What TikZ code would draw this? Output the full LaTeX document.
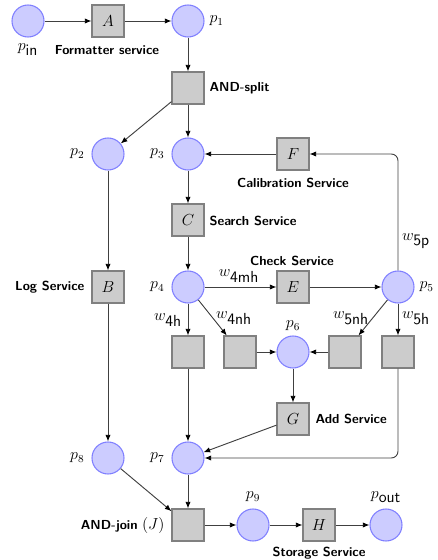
\documentclass[tikz,border=0pt]{standalone}
\usetikzlibrary{arrows.meta}
\begin{document}
\begin{tikzpicture}[x=0.75pt,y=-0.75pt,
  place/.style={circle,draw=blue!50,fill=blue!20,line width=0.8pt,minimum size=24pt,inner sep=0pt},
  trans/.style={rectangle,draw=black!50,fill=black!20,line width=0.8pt,minimum size=24pt,inner sep=0pt,font=\large},
  lab/.style={font=\sffamily\bfseries\fontsize{9.8}{11}\selectfont,inner sep=1pt},
  mlab/.style={font=\large,inner sep=1pt},
  arc/.style={draw=black!75,line width=0.7pt,-{Latex[length=5pt,width=4pt,color=black]}},
]
\useasboundingbox (0,0) rectangle (438,560);
% places and transitions
\node[place] (pin) at (28,21) {};
\node[trans] (A) at (108,21) {$A$};
\node[place] (p1) at (188,21) {};
\node[trans] (split) at (188,88) {};
\node[place] (p2) at (108,154) {};
\node[place] (p3) at (188,154) {};
\node[trans] (F) at (293,154) {$F$};
\node[trans] (C) at (188,220) {$C$};
\node[trans] (B) at (108,287) {$B$};
\node[place] (p4) at (188,287) {};
\node[trans] (E) at (293,287) {$E$};
\node[place] (p5) at (398,287) {};
\node[trans] (t4h) at (188,352) {};
\node[trans] (t4nh) at (240,352) {};
\node[place] (p6) at (293,352) {};
\node[trans] (t5nh) at (345,352) {};
\node[trans] (t5h) at (398,352) {};
\node[trans] (G) at (293,419) {$G$};
\node[place] (p8) at (108,458) {};
\node[place] (p7) at (188,458) {};
\node[trans] (J) at (188,525) {};
\node[place] (p9) at (253,525) {};
\node[trans] (H) at (319,525) {$H$};
\node[place] (pout) at (386,525) {};
% labels
\node[mlab] (lpin) at (28,50) {$p_{\textsf{in}}$};
\node[lab] (lA) at (107,50) {Formatter service};
\node[mlab,anchor=west] (lp1) at (208,21) {$p_1$};
\node[lab,anchor=west] (lsplit) at (208,88) {AND-split};
\node[mlab,anchor=east] (lp2) at (86,154) {$p_2$};
\node[mlab,anchor=east] (lp3) at (166,154) {$p_3$};
\node[lab] (lF) at (293,183) {Calibration Service};
\node[lab,anchor=west] (lC) at (208,221) {Search Service};
\node[lab] (lE) at (292,261) {Check Service};
\node[mlab] (lw4mh) at (239,276) {$w_{\textsf{4mh}}$};
\node[mlab,anchor=west] (lp5) at (418,287) {$p_5$};
\node[mlab] (lw5p) at (416,241) {$w_{\textsf{5p}}$};
\node[lab,anchor=east] (lB) at (86,287) {Log Service};
\node[mlab,anchor=east] (lp4) at (166,287) {$p_4$};
\node[mlab] (lw4h) at (168,320) {$w_{\textsf{4h}}$};
\node[mlab] (lw4nh) at (234,318) {$w_{\textsf{4nh}}$};
\node[mlab] (lp6) at (293,326) {$p_6$};
\node[mlab] (lw5nh) at (351,318) {$w_{\textsf{5nh}}$};
\node[mlab] (lw5h) at (416,318) {$w_{\textsf{5h}}$};
\node[lab,anchor=west] (lG) at (314,419) {Add Service};
\node[mlab,anchor=east] (lp8) at (86,458) {$p_8$};
\node[mlab,anchor=east] (lp7) at (166,458) {$p_7$};
\node[anchor=east,inner sep=1pt] (lJ) at (166,525) {{\sffamily\bfseries\fontsize{9.8}{11}\selectfont AND-join} {\large$(J)$}};
\node[mlab] (lp9) at (253,497) {$p_9$};
\node[mlab] (lpout) at (386,497) {$p_{\textsf{out}}$};
\node[lab] (lH) at (319,553) {Storage Service};
% arcs
\draw[arc] (pin) -- (A);
\draw[arc] (A) -- (p1);
\draw[arc] (p1) -- (split);
\draw[arc] (split) -- (p2);
\draw[arc] (split) -- (p3);
\draw[arc] (F) -- (p3);
\draw[arc,rounded corners=5pt] (p5) |- (F);
\draw[arc] (p3) -- (C);
\draw[arc] (C) -- (p4);
\draw[arc] (p4) -- (E);
\draw[arc] (E) -- (p5);
\draw[arc] (p4) -- (t4h);
\draw[arc] (p4) -- (t4nh);
\draw[arc] (p5) -- (t5nh);
\draw[arc] (p5) -- (t5h);
\draw[arc] (t4nh) -- (p6);
\draw[arc] (t5nh) -- (p6);
\draw[arc] (p6) -- (G);
\draw[arc] (G) -- (p7);
\draw[arc] (t4h) -- (p7);
\draw[arc,rounded corners=5pt] (t5h) |- (p7);
\draw[arc] (p2) -- (B);
\draw[arc] (B) -- (p8);
\draw[arc] (p8) -- (J);
\draw[arc] (p7) -- (J);
\draw[arc] (J) -- (p9);
\draw[arc] (p9) -- (H);
\draw[arc] (H) -- (pout);
\end{tikzpicture}
\end{document}
